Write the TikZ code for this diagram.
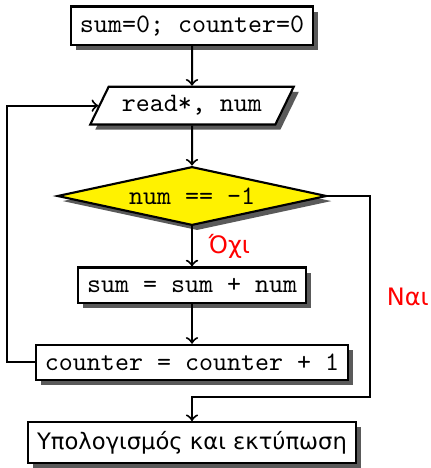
\documentclass[tikz,border=0pt]{standalone}
\usepackage{fontspec}
\newfontfamily\greekfont{DejaVu Sans}
\usepackage{xcolor}
\definecolor{shadow-grey}{HTML}{5A5A5A}
\usepackage{tikz}
\usetikzlibrary{chains}
\usetikzlibrary{positioning}
\usetikzlibrary{shapes.geometric}
\usetikzlibrary{shadows}
\tikzset{box/.style = {draw, thick, fill=white, on chain, align=center, text centered, inner xsep=3.4pt, minimum height=13.2pt, drop shadow={shadow xshift=1.9pt, shadow yshift=-1.9pt, fill=shadow-grey, opacity=1}}}
\tikzset{io/.style = {box, trapezium, trapezium left angle=64, trapezium right angle=116, inner xsep=5pt, minimum height=13.9pt}}
\tikzset{decision/.style = {box, diamond, aspect=4.6, fill=yellow, inner sep=0pt, minimum width=101pt, minimum height=22pt}}
\tikzset{arr/.style = {line width=.75pt, ->}}
\tikzset{answer/.style = {text=red, font=\greekfont\small}}

\begin{document}
\begin{tikzpicture}[auto,
  start chain = going below,
  node distance = 15pt,
  font=\ttfamily
]

\useasboundingbox (-72pt, 9.6pt) rectangle (89.25pt, -165.9pt);

\node[box, minimum height=13.9pt] (b0) {sum=0; counter=0};
\node[io] (b1) {read*, num};
\node[decision] (b2) {num == -1};
\node[box] (b3) {sum = sum + num};
\node[box] (b4) {counter = counter + 1};
\node[box, font=\greekfont\fontsize{8.5}{10}\selectfont, minimum height=15pt] (b5) {Υπολογισμός και εκτύπωση};

\draw[arr]  (b0) -- (b1);
\draw[arr]  (b1) -- (b2);
\draw[arr]  (b2) -- (b3) node[midway, right=2.5pt, answer]{Όχι};
\draw[arr]  (b3) -- (b4);
% loop back to the input
\draw[arr]  (b4.west) -- ++(-10.5pt, 0) |- (b1.west);
\draw[arr]  (b2.east) -- ++(16pt, 0) |- ([yshift=9pt]b5.north) node[pos=.25, right=2.5pt, answer]{Ναι} -- (b5.north);

\end{tikzpicture}
\end{document}
